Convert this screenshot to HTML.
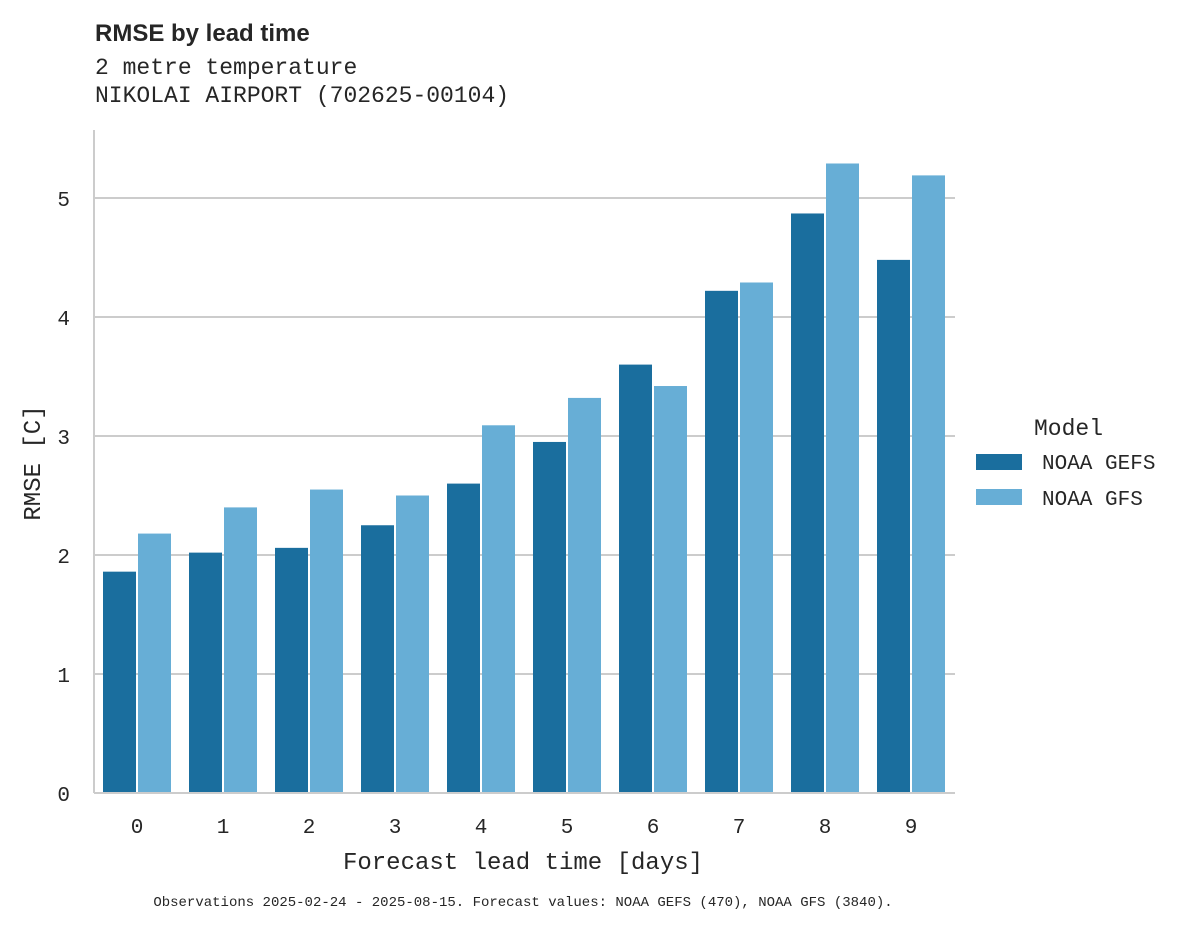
<!DOCTYPE html>
<html><head><meta charset="utf-8"><style>
body{margin:0;background:#fff;}
svg text{font-family:"Liberation Mono",monospace;fill:#262626;}
</style></head><body>
<svg id="chart" width="1195" height="928">
<text x="95" y="41" style="font-family:'Liberation Sans',sans-serif;font-weight:bold;font-size:24px">RMSE by lead time</text>
<text x="95" y="74" font-size="23">2 metre temperature</text>
<text x="95" y="102" font-size="23">NIKOLAI AIRPORT (702625-00104)</text>
<g id="grid"></g>
<g id="bars"></g>
<line x1="94" y1="130" x2="94" y2="793" stroke="#ccc" stroke-width="2"/>
<line x1="94" y1="793" x2="955" y2="793" stroke="#ccc" stroke-width="2"/>
<g id="yticks"></g><g id="xticks"></g>
<text x="523" y="869" font-size="24" text-anchor="middle">Forecast lead time [days]</text>
<text transform="translate(40,463) rotate(-90)" font-size="24" text-anchor="middle">RMSE [C]</text>
<text x="1034" y="435" font-size="23">Model</text>
<g><rect x="976" y="454" width="46" height="16" fill="#1a6e9e"/><text x="1042" y="469" font-size="21">NOAA GEFS</text></g>
<g><rect x="976" y="489" width="46" height="16" fill="#67aed6"/><text x="1042" y="505" font-size="21">NOAA GFS</text></g>
<text x="523" y="906" font-size="14" text-anchor="middle">Observations 2025-02-24 - 2025-08-15. Forecast values: NOAA GEFS (470), NOAA GFS (3840).</text>
</svg>
<script>
const categories=[0,1,2,3,4,5,6,7,8,9];
const gefsValues=[1.86,2.02,2.06,2.25,2.60,2.95,3.60,4.22,4.87,4.48];
const gfsValues=[2.18,2.40,2.55,2.50,3.09,3.32,3.42,4.29,5.29,5.19];
const yTicks=[0,1,2,3,4,5];
const NS="http://www.w3.org/2000/svg";
const y=v=>793-v*119;
const xc=i=>137+i*86;
const grid=document.getElementById('grid'),bars=document.getElementById('bars'),yt=document.getElementById('yticks'),xt=document.getElementById('xticks');
yTicks.forEach(t=>{
 if(t>0){const l=document.createElementNS(NS,'line');
 
 
 l.setAttribute('x1',94);l.setAttribute('x2',955);l.setAttribute('y1',y(t));l.setAttribute('y2',y(t));l.setAttribute('stroke','#ccc');l.setAttribute('stroke-width','2');grid.appendChild(l);}
 const tx=document.createElementNS(NS,'text');
 
 
 tx.setAttribute('x',70);tx.setAttribute('y',y(t)+8);tx.setAttribute('font-size','21');tx.setAttribute('text-anchor','end');tx.textContent=t;yt.appendChild(tx);
});
function bar(i,v,dx,col,nm){
 const r=document.createElementNS(NS,'rect');
 
 
 r.setAttribute('x',xc(i)+dx);r.setAttribute('width',33);r.setAttribute('y',y(v));r.setAttribute('height',793-y(v));r.setAttribute('fill',col);bars.appendChild(r);
}
categories.forEach((c,i)=>{
 bar(i,gefsValues[i],-34,'#1a6e9e','bar-gefs-'+c);
 bar(i,gfsValues[i],1,'#67aed6','bar-gfs-'+c);
 const tx=document.createElementNS(NS,'text');
 
 
 tx.setAttribute('x',xc(i));tx.setAttribute('y',833);tx.setAttribute('font-size','21');tx.setAttribute('text-anchor','middle');tx.textContent=c;xt.appendChild(tx);
});
</script>
</body></html>
